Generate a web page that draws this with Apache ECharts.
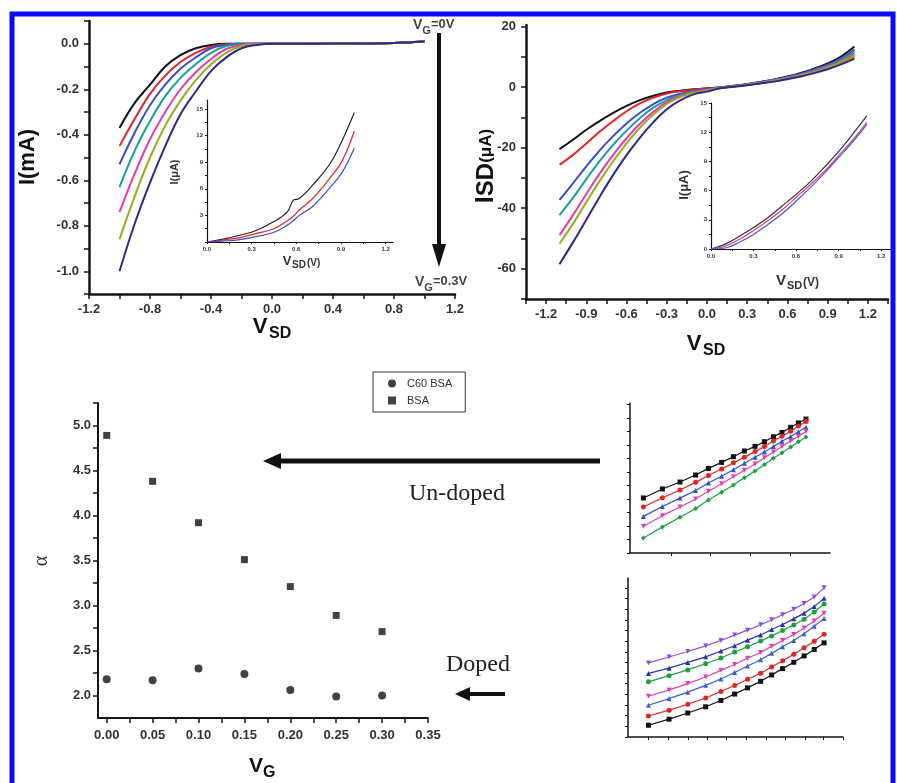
<!DOCTYPE html>
<html><head><meta charset="utf-8">
<script src="https://cdn.jsdelivr.net/npm/echarts@6/dist/echarts.min.js"></script>
<style>html,body{margin:0;padding:0;background:#fff}#c{width:897px;height:783px}</style>
</head><body><div id="c"></div><script>
// ---------- Data: top-left panel I(mA) vs VSD ----------
const ivX = [-1.0,-0.9,-0.8,-0.7,-0.6,-0.5,-0.4,-0.3,-0.2,-0.1,0.0,0.2,0.4,0.6,0.8,0.9,1.0];
const ivK = [-0.37,-0.26,-0.18,-0.10,-0.05,-0.02,-0.005,0,0,0,0,0,0,0.001,0.003,0.006,0.01];
const ivR = [-0.45,-0.33,-0.22,-0.14,-0.08,-0.04,-0.013,-0.002,0,0,0,0,0.001,0.001,0.003,0.006,0.01];
const ivB = [-0.53,-0.39,-0.27,-0.18,-0.11,-0.06,-0.02,-0.005,0,0,0,0,0,0.001,0.003,0.006,0.01];
const ivC = [-0.63,-0.47,-0.34,-0.23,-0.15,-0.09,-0.04,-0.01,-0.002,0,0,0,0,0.001,0.003,0.006,0.01];
const ivM = [-0.74,-0.57,-0.42,-0.30,-0.20,-0.125,-0.067,-0.023,-0.005,0,0,0,0,0.001,0.003,0.006,0.01];
const ivO = [-0.86,-0.67,-0.50,-0.36,-0.25,-0.16,-0.09,-0.04,-0.01,-0.002,0,0,0,0.001,0.003,0.006,0.01];
const ivN = [-1.0,-0.79,-0.61,-0.45,-0.31,-0.21,-0.12,-0.06,-0.02,-0.005,0,0,0.001,0.001,0.003,0.006,0.01];
// inset (top-left): I(uA) vs VSD(V)
const inLX = [0.0,0.1,0.22,0.33,0.45,0.54,0.58,0.62,0.71,0.83,0.91,0.99];
const inLK = [0.0,0.3,0.76,1.3,2.3,3.4,4.7,4.9,6.4,8.9,11.5,14.6];
const inLR = [0.0,0.2,0.5,0.95,1.5,2.4,2.9,3.6,4.9,7.3,9.2,12.5];
const inLB = [0.0,0.1,0.27,0.6,1.1,1.9,2.4,3.0,4.0,6.2,7.9,10.6];
// ---------- Data: top-right panel ISD(uA) vs VSD ----------
const isX = [-1.1,-1.0,-0.9,-0.8,-0.7,-0.6,-0.5,-0.4,-0.3,-0.2,-0.1,0.0,0.1,0.2,0.3,0.4,0.5,0.6,0.7,0.8,0.9,1.0,1.1];
const isK = [-20.5,-17.4,-14.1,-11.2,-8.5,-6.2,-4.3,-2.9,-1.8,-1.2,-0.75,-0.4,-0.1,0.4,1.0,1.7,2.5,3.5,4.7,6.1,7.8,10.1,13.4];
const isR = [-25.7,-22.4,-18.6,-14.7,-11.2,-8.0,-5.4,-3.5,-2.1,-1.4,-0.85,-0.5,-0.2,0.3,0.8,1.4,2.1,2.9,3.9,5.0,6.3,8.0,10.2];
const isB = [-37.3,-31.8,-26.2,-20.9,-16.2,-12.0,-8.5,-5.6,-3.5,-2.2,-1.3,-0.8,-0.2,0.3,0.9,1.6,2.4,3.3,4.4,5.8,7.4,9.5,12.4];
const isC = [-42.3,-36.6,-30.4,-24.4,-19.1,-14.4,-10.2,-6.8,-4.3,-2.6,-1.5,-0.9,-0.2,0.3,0.9,1.5,2.3,3.1,4.2,5.5,7.0,9.0,11.6];
const isM = [-48.9,-42.3,-35.3,-28.5,-22.4,-16.9,-12.1,-8.2,-5.0,-3.0,-1.7,-1.0,-0.3,0.2,0.8,1.4,2.1,3.0,4.0,5.2,6.7,8.6,11.0];
const isO = [-51.7,-45.2,-38.0,-31.0,-24.5,-18.6,-13.4,-9.1,-5.6,-3.3,-1.85,-1.1,-0.3,0.2,0.7,1.3,2.0,2.8,3.8,5.0,6.4,8.2,10.5];
const isN = [-58.5,-51.3,-43.8,-36.2,-29.0,-22.5,-16.7,-11.6,-7.3,-4.4,-2.4,-1.5,-0.4,0.1,0.6,1.2,1.8,2.6,3.5,4.6,5.9,7.5,9.4];
// inset (top-right)
const inRX = [0.0,0.1,0.2,0.3,0.4,0.5,0.6,0.7,0.8,0.9,1.0,1.1];
const inRK = [0.0,0.5,1.3,2.2,3.2,4.4,5.6,6.9,8.4,10.0,11.8,13.7];
const inRP = [0.0,0.3,1.0,1.9,2.9,4.0,5.3,6.6,8.0,9.6,11.2,13.0];
const inRB = [0.0,0.1,0.7,1.5,2.5,3.6,4.9,6.3,7.8,9.4,11.0,12.8];
// ---------- Data: bottom scatter alpha vs VG ----------
const vgX = [0.00,0.05,0.10,0.15,0.20,0.25,0.30];
const alphaC60 = [2.18,2.17,2.30,2.24,2.06,1.99,2.00];
const alphaBSA = [4.89,4.38,3.92,3.51,3.21,2.89,2.71];
// ---------- Data: small panel "Un-doped" ----------
const uX = [0.67,1.62,2.5,3.28,3.92,4.58,5.17,5.72,6.25,6.72,7.17,7.6,8.03,8.42,8.8];
const uK = [3.67,4.27,4.73,5.2,5.64,6.04,6.42,6.8,7.11,7.42,7.75,8.04,8.38,8.67,8.93];
const uR = [3.07,3.68,4.2,4.71,5.17,5.6,6.01,6.39,6.76,7.1,7.46,7.79,8.12,8.46,8.77];
const uB = [2.44,3.1,3.66,4.17,4.67,5.12,5.55,5.98,6.38,6.73,7.1,7.45,7.77,8.08,8.38];
const uM = [1.78,2.49,3.07,3.6,4.11,4.62,5.09,5.52,5.94,6.35,6.73,7.1,7.46,7.79,8.1];
const uG = [1.0,1.74,2.38,2.96,3.53,4.05,4.53,5.01,5.47,5.9,6.31,6.69,7.06,7.41,7.73];
// ---------- Data: small panel "Doped" ----------
const dX = [0.95,1.91,2.78,3.61,4.32,4.96,5.56,6.17,6.68,7.19,7.71,8.19,8.66,9.12];
const dPu = [4.66,5.03,5.38,5.73,6.07,6.41,6.72,7.06,7.37,7.69,8.03,8.4,8.8,9.38];
const dNv = [4.0,4.33,4.69,5.04,5.41,5.74,6.09,6.42,6.76,7.08,7.43,7.79,8.2,8.72];
const dGr = [3.47,3.86,4.22,4.61,4.97,5.35,5.68,6.03,6.36,6.7,7.05,7.41,7.86,8.36];
const dMg = [2.56,2.96,3.36,3.77,4.19,4.56,4.95,5.31,5.7,6.07,6.45,6.86,7.3,7.78];
const dBl = [2.0,2.41,2.82,3.25,3.65,4.06,4.47,4.86,5.26,5.67,6.07,6.5,6.96,7.46];
const dRd = [1.32,1.69,2.06,2.45,2.86,3.24,3.63,4.01,4.4,4.79,5.2,5.61,6.02,6.47];
const dBk = [0.74,1.12,1.51,1.9,2.3,2.7,3.09,3.5,3.9,4.3,4.7,5.1,5.5,5.92];

// ---------- Styling ----------
const C7 = ['#111111','#e3262b','#3a4cc8','#14a0a0','#e33ca8','#9aab1e','#2a2a8c'];
const pair = (xs, ys) => xs.map((x, i) => [x, ys[i]]);
const range = (a, b, s) => { const r = []; for (let v = a; v <= b + 1e-9; v += s) r.push(+v.toFixed(4)); return r; };

function axis(grid, min, max, labels, ticks, o) {
  o = o || {};
  return {
    type: 'value', gridIndex: grid, min: min, max: max,
    axisLine: { show: true, onZero: false, lineStyle: { color: '#151515', width: o.lw || 2.5 } },
    axisTick: { show: true, customValues: ticks, length: o.tl || 5, lineStyle: { color: '#151515', width: o.tw || 1.5 } },
    axisLabel: { show: !!labels, customValues: labels || [], margin: o.margin || 8, fontSize: o.fs || 13,
      fontWeight: o.fw || 'bold', fontFamily: 'Arial, "Liberation Sans", sans-serif', color: '#333',
      formatter: v => o.fmt ? o.fmt(v) : String(v) },
    splitLine: { show: false }
  };
}
const f1 = v => v.toFixed(1), f2 = v => v.toFixed(2), f0 = v => v.toFixed(0);

const grids = [
  { left: 89, top: 21, width: 366, height: 273 },   // 0 top-left
  { left: 207, top: 100, width: 186, height: 142 }, // 1 inset left
  { left: 526, top: 25, width: 362, height: 274 },  // 2 top-right
  { left: 711, top: 103, width: 180, height: 146 }, // 3 inset right
  { left: 98, top: 403, width: 330, height: 315 },  // 4 scatter
  { left: 630, top: 403, width: 200, height: 150 }, // 5 small upper
  { left: 628, top: 578, width: 215, height: 159 }  // 6 small lower
].map(g => Object.assign({ containLabel: false, show: false }, g));

const xAxes = [
  axis(0, -1.2, 1.2, range(-1.2, 1.2, 0.4), range(-1.2, 1.2, 0.2), { fmt: f1, margin: 9 }),
  axis(1, 0, 1.25, range(0, 1.2, 0.3), range(0, 1.2, 0.15), { fmt: f1, fs: 6, lw: 1.2, tl: 2, tw: 1, margin: 4 }),
  axis(2, -1.35, 1.35, range(-1.2, 1.2, 0.3), range(-1.35, 1.35, 0.15), { fmt: f1, margin: 9 }),
  axis(3, 0, 1.27, range(0, 1.2, 0.3), range(0, 1.2, 0.15), { fmt: f1, fs: 6, lw: 1.2, tl: 2, tw: 1, margin: 4 }),
  axis(4, -0.0095, 0.35, range(0, 0.35, 0.05), range(0, 0.35, 0.025), { fmt: f2, lw: 2, margin: 11 }),
  axis(5, 0, 10, null, [2.05, 4, 6, 8], { lw: 1.5, tl: 3, tw: 1 }),
  axis(6, 0, 10, null, [0.96, 1.87, 2.78, 3.69, 4.59, 5.5, 6.42, 7.32, 8.23, 9.1, 10], { lw: 1.5, tl: 3, tw: 1 })
];
const yAxes = [
  axis(0, -1.1, 0.1, range(-1.0, 0, 0.2), range(-1.1, 0.1, 0.1), { fmt: f1, margin: 10 }),
  axis(1, 0, 16, range(3, 15, 3), range(0, 16, 1.5), { fmt: f0, fs: 6, lw: 1.2, tl: 2, tw: 1, margin: 4 }),
  axis(2, -70, 20.5, range(-60, 20, 20), range(-70, 20, 10), { fmt: f0, margin: 10 }),
  axis(3, 0, 15, range(0, 15, 3), range(0, 15, 1.5), { fmt: f0, fs: 6, lw: 1.2, tl: 2, tw: 1, margin: 4 }),
  axis(4, 1.75, 5.25, range(2, 5, 0.5), range(2, 5.25, 0.25), { fmt: f1, lw: 2, margin: 7 }),
  axis(5, 0, 10, null, range(0, 10, 0.9), { lw: 1.5, tl: 3, tw: 1 }),
  axis(6, 0, 10, null, range(0, 10, 0.67), { lw: 1.5, tl: 3, tw: 1 })
];

const series = [];
function lines(g, xs, arrs, colors, w) {
  arrs.forEach((ys, i) => series.push({ type: 'line', xAxisIndex: g, yAxisIndex: g, data: pair(xs, ys), smooth: 0.4,
    symbol: 'none', lineStyle: { color: colors[i], width: w }, itemStyle: { color: colors[i] }, silent: true, animation: false }));
}
lines(0, ivX, [ivK, ivR, ivB, ivC, ivM, ivO, ivN], C7, 2);
lines(1, inLX, [inLK, inLR, inLB], ['#222', '#e3262b', '#4050c8'], 1.2);
lines(2, isX, [isK, isR, isB, isC, isM, isO, isN], C7, 2);
lines(3, inRX, [inRK, inRP, inRB], ['#333', '#e04080', '#4a55c8'], 1.2);

function marked(g, xs, arrs, colors, syms) {
  arrs.forEach((ys, i) => series.push({ type: 'line', xAxisIndex: g, yAxisIndex: g, data: pair(xs, ys),
    symbol: syms[i][0], symbolRotate: syms[i][1] || 0, symbolSize: 5, showSymbol: true,
    lineStyle: { color: colors[i], width: 1.2 }, itemStyle: { color: colors[i] }, silent: true, animation: false }));
}
marked(5, uX, [uK, uR, uB, uM, uG], ['#111', '#e32424', '#3050d0', '#e040b0', '#1fa040'],
  [['rect'], ['circle'], ['triangle'], ['triangle', 180], ['diamond']]);
marked(6, dX, [dPu, dNv, dGr, dMg, dBl, dRd, dBk], ['#9050d0', '#2a34a8', '#1fa040', '#e040b0', '#3a5ed0', '#e32424', '#111'],
  [['triangle', 180], ['triangle'], ['circle'], ['triangle', 180], ['triangle'], ['circle'], ['rect']]);

series.push({ name: 'C60 BSA', type: 'scatter', xAxisIndex: 4, yAxisIndex: 4, data: pair(vgX, alphaC60),
  symbol: 'circle', symbolSize: 8, itemStyle: { color: '#111' }, animation: false });
series.push({ name: 'BSA', type: 'scatter', xAxisIndex: 4, yAxisIndex: 4, data: pair(vgX, alphaBSA),
  symbol: 'rect', symbolSize: 7, itemStyle: { color: '#111' }, animation: false });

const AR = 'Arial, "Liberation Sans", sans-serif';
const SR = '"Liberation Serif", "Times New Roman", serif';
function txt(x, y, t, font, o) {
  o = o || {};
  return { type: 'text', x: x, y: y, rotation: o.rot || 0, z: 50,
    style: { text: t, font: font, fill: o.fill || '#111', align: o.align || 'center', verticalAlign: 'middle', rich: o.rich } };
}
const vgRich = {
  v: { fontSize: 14, fontWeight: 'bold', fontFamily: AR, fill: '#444', verticalAlign: 'top', lineHeight: 18 },
  g: { fontSize: 11, fontWeight: 'bold', fontFamily: AR, fill: '#444', verticalAlign: 'bottom', lineHeight: 12 },
  t: { fontSize: 13, fontWeight: 'bold', fontFamily: AR, fill: '#444', verticalAlign: 'top', lineHeight: 18 } };
const graphic = [
  { type: 'rect', shape: { x: 12, y: 14, width: 881, height: 790 }, style: { fill: 'none', stroke: '#0a0af5', lineWidth: 5 }, z: 60 },
  // VG arrow
  { type: 'line', shape: { x1: 439, y1: 33, x2: 439, y2: 248 }, style: { stroke: '#111', lineWidth: 4 }, z: 50 },
  { type: 'polygon', shape: { points: [[432, 244], [446, 244], [439, 267]] }, style: { fill: '#111' }, z: 50 },
  txt(413, 27, '{v|V}{g|G}{t|=0V}', 'bold 14px ' + AR, { align: 'left', fill: '#444', rich: vgRich }),
  txt(415, 284, '{v|V}{g|G}{t|=0.3V}', 'bold 14px ' + AR, { align: 'left', fill: '#444', rich: vgRich }),
  // axis titles top-left
  txt(28, 157, 'I(mA)', 'bold 22px ' + AR, { rot: Math.PI / 2 }),
  txt(260, 327, 'V', 'bold 22px ' + AR),
  txt(269, 334, 'SD', 'bold 16px ' + AR, { align: 'left' }),
  txt(175, 172, 'I(μA)', 'bold 11px ' + AR, { rot: Math.PI / 2, fill: '#333' }),
  txt(287, 261, 'V', 'bold 13px ' + AR, { fill: '#333' }),
  txt(292, 265, 'SD', 'bold 10px ' + AR, { align: 'left', fill: '#333' }),
  txt(307, 263, '(V)', 'bold 10px ' + AR, { align: 'left', fill: '#333' }),
  // axis titles top-right
  txt(486, 166, '{a|I}{b|SD}{c|(μA)}', 'bold 24px ' + AR, { rot: Math.PI / 2, rich: {
    a: { fontSize: 25, fontWeight: 'bold', fontFamily: AR, fill: '#111' },
    b: { fontSize: 24, fontWeight: 'bold', fontFamily: AR, fill: '#111' },
    c: { fontSize: 17, fontWeight: 'bold', fontFamily: AR, fill: '#111' } } }),
  txt(694, 344, 'V', 'bold 22px ' + AR),
  txt(703, 351, 'SD', 'bold 16px ' + AR, { align: 'left' }),
  txt(684, 185, 'I(μA)', 'bold 13px ' + AR, { rot: Math.PI / 2, fill: '#333' }),
  txt(781, 281, 'V', 'bold 15px ' + AR, { fill: '#333' }),
  txt(787, 286, 'SD', 'bold 11px ' + AR, { align: 'left', fill: '#333' }),
  txt(803, 283, '(V)', 'bold 12px ' + AR, { align: 'left', fill: '#333' }),
  // bottom scatter titles
  txt(42, 561, 'α', '20px ' + SR, { rot: Math.PI / 2, fill: '#333' }),
  txt(256, 766, 'V', 'bold 21px ' + AR),
  txt(263, 773, 'G', 'bold 16px ' + AR, { align: 'left' }),
  // arrows + labels
  { type: 'line', shape: { x1: 600, y1: 461, x2: 278, y2: 461 }, style: { stroke: '#111', lineWidth: 5 }, z: 50 },
  { type: 'polygon', shape: { points: [[263, 461], [281, 453], [281, 469]] }, style: { fill: '#111' }, z: 50 },
  txt(457, 494, 'Un-doped', '24px ' + SR, { fill: '#222' }),
  { type: 'line', shape: { x1: 505, y1: 694, x2: 468, y2: 694 }, style: { stroke: '#111', lineWidth: 4 }, z: 50 },
  { type: 'polygon', shape: { points: [[455, 694], [470, 687], [470, 701]] }, style: { fill: '#111' }, z: 50 },
  txt(478, 665, 'Doped', '24px ' + SR, { fill: '#222' })
];

const chart = echarts.init(document.getElementById('c'), null, { renderer: 'canvas' });
chart.setOption({
  animation: false,
  backgroundColor: '#fff',
  grid: grids, xAxis: xAxes, yAxis: yAxes, series: series, graphic: graphic,
  legend: { data: ['C60 BSA', 'BSA'], orient: 'vertical', left: 373, top: 372, borderColor: '#333', borderWidth: 1,
    padding: [6, 13, 6, 15], itemWidth: 8, itemHeight: 8, itemGap: 6,
    textStyle: { fontSize: 11, fontFamily: AR, color: '#333', padding: [0, 0, 0, 6] } }
});
</script></body></html>
